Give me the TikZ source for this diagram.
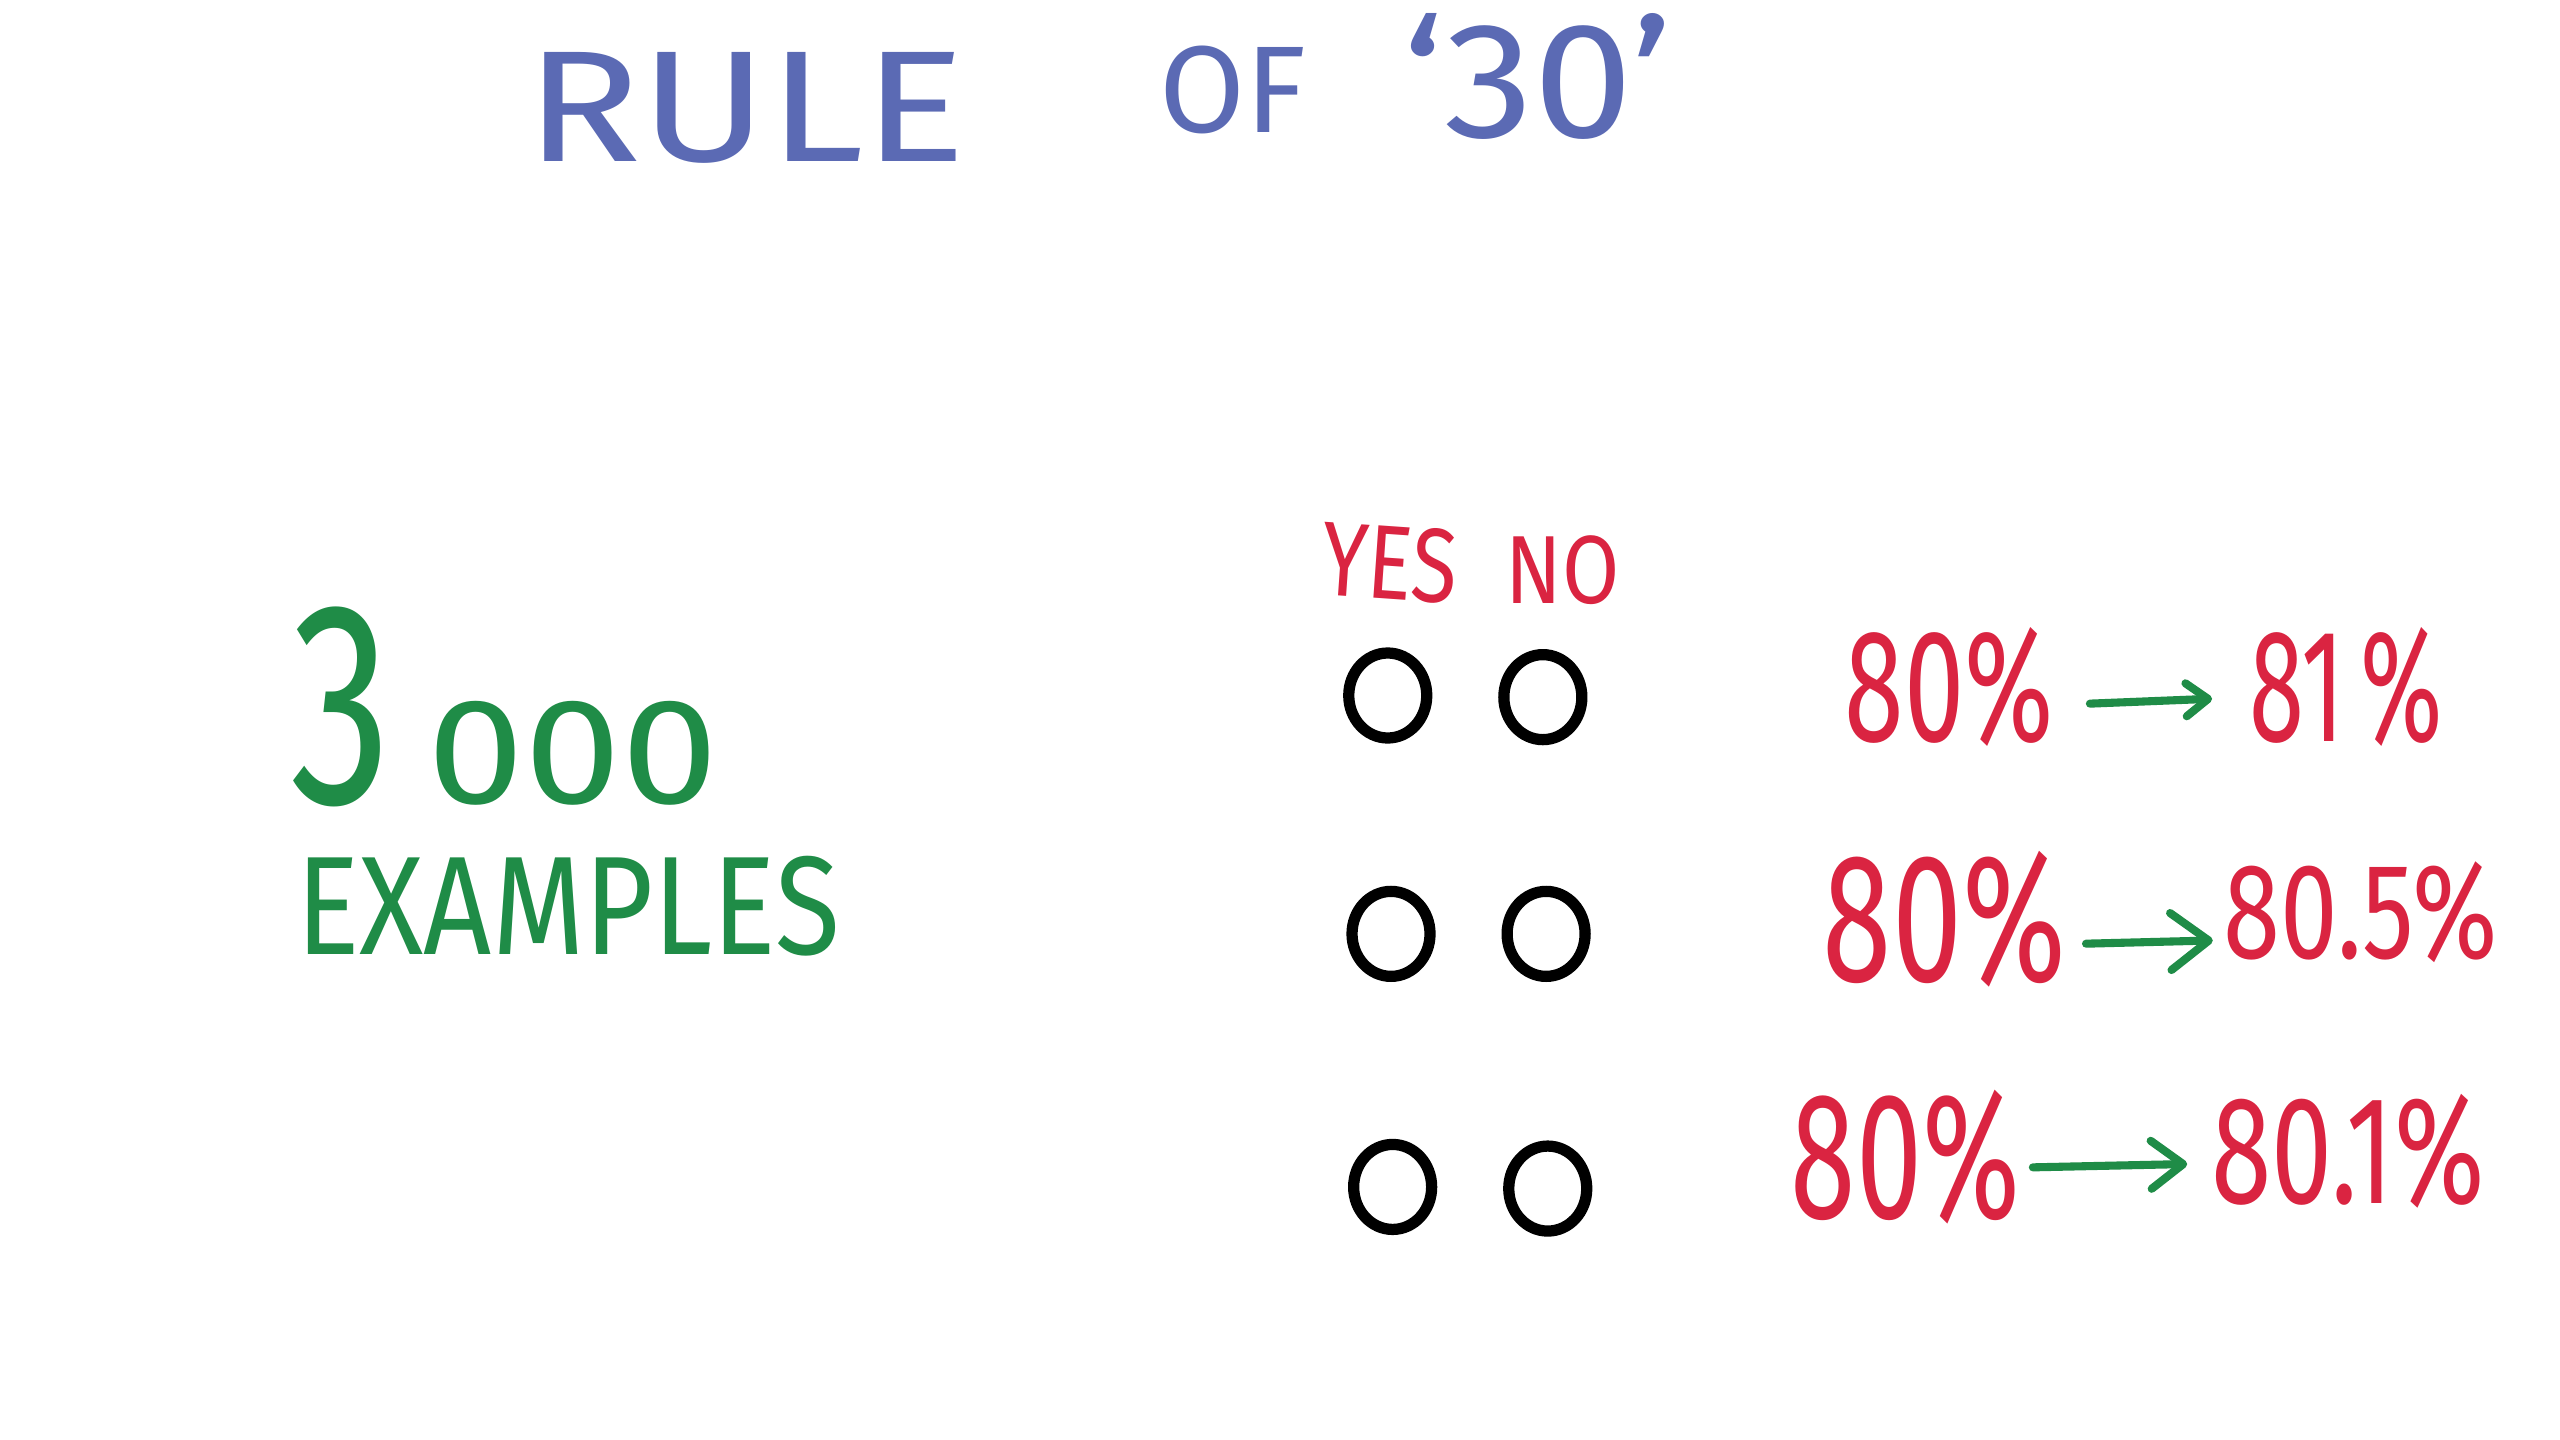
\documentclass[tikz,border=0pt]{standalone}
\usepackage{fontspec}
\setmainfont{Fira Sans}
\usepackage{graphicx}
\usetikzlibrary{arrows.meta,shapes.geometric}
\definecolor{tblue}{HTML}{5B6AB4}
\definecolor{tgreen}{HTML}{1F8C47}
\definecolor{tred}{HTML}{DA2441}
\newcommand{\fitto}[3]{\resizebox*{#1}{#2}{#3}}
\begin{document}
\begin{tikzpicture}[x=0.016327cm,y=-0.016327cm,
  lbl/.style={inner sep=0pt,outer sep=0pt},
  ttl/.style={lbl,text=tblue},
  grn/.style={lbl,text=tgreen},
  rd/.style={lbl,text=tred},
  bub/.style={draw=black,line width=3.2pt,ellipse,inner sep=0pt,minimum width=0.78cm,minimum height=0.85cm},
  arr/.style={draw=tgreen,line width=2.3pt,line cap=round,-{Straight Barb[length=#1,width=1.5*#1,line cap=round,line join=round]}},
  arr/.default=0.3cm]
\fill[white] (0,0) rectangle (1568,882);
\useasboundingbox (0,0) rectangle (1568,882);
% title
\node[ttl] (t1) at (457,66) {\fitto{4.41cm}{1.11cm}{RULE}};
\node[ttl] (t2) at (755,55) {\fitto{1.47cm}{0.88cm}{OF}};
\node[ttl] (t3) at (942,47) {\fitto{2.69cm}{1.26cm}{`30'}};
% left
\node[grn,anchor=base west] (n3000) at (178,492) {\fitto{1.01cm}{2.0cm}{3}\hspace{0.36cm}\fitto{2.91cm}{1.04cm}{000}};
\node[grn] (ex) at (348,555) {\fitto{5.44cm}{1.0cm}{EXAMPLES}};
% yes no
\node[rd,rotate=-4] (yes) at (851,345) {\fitto{1.36cm}{0.75cm}{YES}};
\node[rd] (no) at (957,349) {\fitto{1.14cm}{0.69cm}{NO}};
% circles
\node[bub] (y1) at (850,426) {};
\node[bub] (n1) at (945,427) {};
\node[bub] (y2) at (852,572) {};
\node[bub] (n2) at (947,572) {};
\node[bub] (y3) at (853,727) {};
\node[bub] (n3) at (948,728) {};
% percentages
\node[rd] (a1) at (1194,421) {\fitto{2.09cm}{1.19cm}{80\%}};
\node[rd] (b1) at (1437,421) {\fitto{1.94cm}{1.19cm}{81\,\%}};
\node[rd] (a2) at (1191,563) {\fitto{2.43cm}{1.36cm}{80\%}};
\node[rd] (b2) at (1446,559) {\fitto{2.74cm}{1.01cm}{80.5\%}};
\node[rd] (a3) at (1167,709) {\fitto{2.29cm}{1.34cm}{80\%}};
\node[rd] (b3) at (1438,705) {\fitto{2.73cm}{1.14cm}{80.1\%}};
% arrows
\draw[arr=0.22cm] ([xshift=0.36cm,yshift=-0.163cm]a1.east) -- ([xshift=-0.37cm,yshift=-0.114cm]b1.west);
\draw[arr=0.38cm] ([xshift=0.2cm,yshift=-0.245cm]a2.east) -- ([xshift=-0.11cm,yshift=-0.278cm]b2.west);
\draw[arr=0.32cm] ([xshift=0.13cm,yshift=-0.098cm]a3.east) -- ([xshift=-0.24cm,yshift=-0.13cm]b3.west);
\end{tikzpicture}
\end{document}
